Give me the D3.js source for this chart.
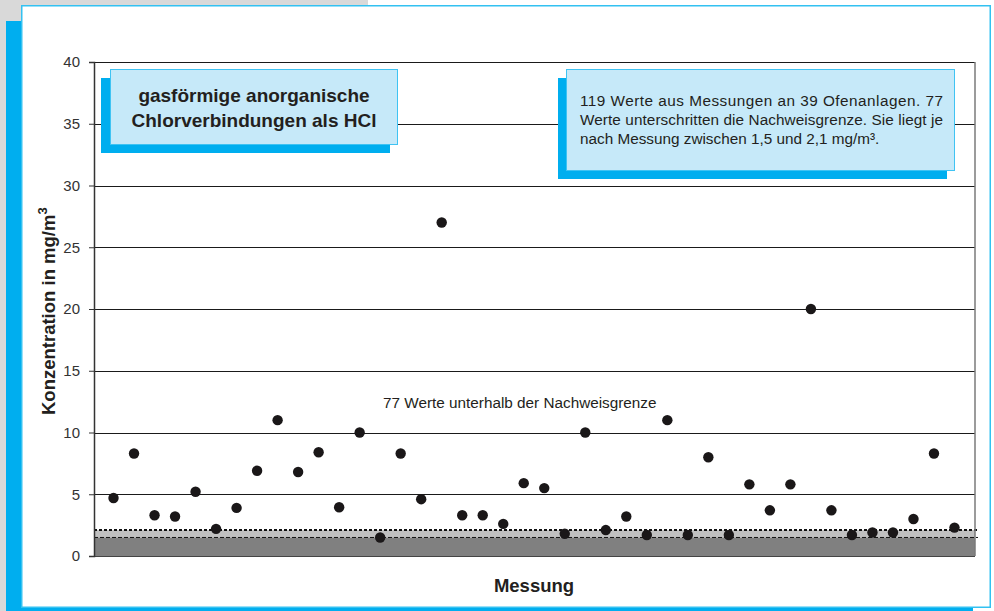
<!DOCTYPE html>
<html lang="de">
<head>
  <meta charset="UTF-8">
  <title>Chlorverbindungen als HCl</title>
  <style>
    body { margin: 0; background: #fff; }
    svg { display: block; font-family: "Liberation Sans", Arial, sans-serif; }
    .tick text { font-size: 15px; fill: #333; font-family: "Liberation Sans", Arial, sans-serif; }
  </style>
  <script src="https://cdn.jsdelivr.net/npm/d3@7"></script>
</head>
<body>
<div class="main"></div>
<script>

// Messung number and concentration (mg/m3)
var messung = d3.range(1, 43);
var werte = [4.7, 8.3, 3.3, 3.2, 5.2, 2.2, 3.9, 6.9, 11.0, 6.8, 8.4, 3.95, 10.0, 1.5,
             8.3, 4.6, 27.0, 3.3, 3.3, 2.6, 5.9, 5.5, 1.8, 10.0, 2.1, 3.2, 1.7, 11.0,
             1.7, 8.0, 1.7, 5.8, 3.7, 5.8, 20.0, 3.7, 1.7, 1.9, 1.9, 3.0, 8.3, 2.3];
var yTicks = [0, 5, 10, 15, 20, 25, 30, 35, 40];
var grenzeUnten = 1.5, grenzeOben = 2.1;

var titelZeilen = ["gasförmige anorganische", "Chlorverbindungen als HCl"];
var infoZeilen = ["119 Werte aus Messungen an 39 Ofenanlagen. 77",
                  "Werte unterschritten die Nachweisgrenze. Sie liegt je",
                  "nach Messung zwischen 1,5 und 2,1 mg/m³."];
var hinweis = "77 Werte unterhalb der Nachweisgrenze";

var width = 994, height = 611;
var plotLeft = 94, plotRight = 975, plotTop = 62, plotBottom = 556;

var svg = d3.select(".main").append("svg")
    .attr("width", width)
    .attr("height", height);

// page frame
svg.append("rect").attr("x", 0).attr("y", 0).attr("width", 368).attr("height", 5).attr("fill", "#d9d9d9");
svg.append("rect").attr("x", 0).attr("y", 0).attr("width", 21).attr("height", 21).attr("fill", "#d9d9d9");
svg.append("rect").attr("x", 0).attr("y", 0).attr("width", 6).attr("height", height).attr("fill", "#d9d9d9");
svg.append("rect").attr("x", 6).attr("y", 21).attr("width", 15).attr("height", 590).attr("fill", "#00aeef");
svg.append("rect").attr("x", 6).attr("y", 607).attr("width", 967).attr("height", 4).attr("fill", "#00aeef");
svg.append("rect")
    .attr("x", 21.75).attr("y", 5.75).attr("width", 968.5).attr("height", 601.5)
    .attr("fill", "#fff").attr("stroke", "#33c1f1").attr("stroke-width", 1.5);

var x = d3.scaleLinear().domain([0, 43]).range([93, 975]);
var y = d3.scaleLinear().domain([0, 40]).range([plotBottom, plotTop]);

// area below detection limit
svg.append("rect")
    .attr("x", plotLeft).attr("width", plotRight - plotLeft)
    .attr("y", y(grenzeOben)).attr("height", y(grenzeUnten) - y(grenzeOben))
    .attr("fill", "#c0c0c0");
svg.append("rect")
    .attr("x", plotLeft).attr("width", plotRight - plotLeft)
    .attr("y", y(grenzeUnten)).attr("height", y(0) - y(grenzeUnten))
    .attr("fill", "#808080");

// grid lines
svg.append("g").selectAll("line")
    .data(yTicks.filter(function(d) { return d > 0; }))
  .enter().append("line")
    .attr("x1", plotLeft).attr("x2", plotRight)
    .attr("y1", function(d) { return Math.round(y(d)) + 0.5; })
    .attr("y2", function(d) { return Math.round(y(d)) + 0.5; })
    .attr("stroke", "#1a1a1a").attr("stroke-width", 1);

svg.append("line")
    .attr("x1", plotLeft).attr("x2", plotRight + 3)
    .attr("y1", y(grenzeOben)).attr("y2", y(grenzeOben))
    .attr("stroke", "#111").attr("stroke-width", 2).attr("stroke-dasharray", "3,2");
svg.append("line")
    .attr("x1", plotLeft).attr("x2", plotRight + 3)
    .attr("y1", y(grenzeUnten)).attr("y2", y(grenzeUnten))
    .attr("stroke", "#111").attr("stroke-width", 1).attr("stroke-dasharray", "4,2");

// plot border right / bottom
svg.append("line")
    .attr("x1", plotRight).attr("x2", plotRight).attr("y1", plotTop).attr("y2", plotBottom)
    .attr("stroke", "#7a7a7a").attr("stroke-width", 1.5);
svg.append("line")
    .attr("x1", plotLeft).attr("x2", plotRight).attr("y1", plotBottom + 0.5).attr("y2", plotBottom + 0.5)
    .attr("stroke", "#444").attr("stroke-width", 1);

// y axis
var yAxis = svg.append("g")
    .attr("transform", "translate(" + plotLeft + ",0)")
    .call(d3.axisLeft(y).tickValues(yTicks).tickSize(5).tickPadding(9));
yAxis.select(".domain").attr("stroke", "#333").attr("stroke-width", 1.5);
yAxis.selectAll(".tick line").attr("stroke", "#333");

// points
svg.append("g").selectAll("circle")
    .data(werte)
  .enter().append("circle")
    .attr("cx", function(d, i) { return x(messung[i]); })
    .attr("cy", function(d) { return y(d); })
    .attr("r", 5.2)
    .attr("fill", "#1a1718");

// title box
svg.append("rect").attr("x", 101).attr("y", 78).attr("width", 289).attr("height", 75).attr("fill", "#00aeef");
svg.append("rect").attr("x", 110.5).attr("y", 69.5).attr("width", 287).attr("height", 75)
    .attr("fill", "#c6e9f9").attr("stroke", "#3fc3f3").attr("stroke-width", 1);
svg.append("g").selectAll("text")
    .data(titelZeilen)
  .enter().append("text")
    .attr("x", 254)
    .attr("y", function(d, i) { return 102 + i * 24.5; })
    .attr("text-anchor", "middle")
    .attr("font-weight", "bold")
    .attr("font-size", 19)
    .attr("fill", "#231f20")
    .text(function(d) { return d; });

// info box
svg.append("rect").attr("x", 558).attr("y", 78).attr("width", 389).attr("height", 101).attr("fill", "#00aeef");
svg.append("rect").attr("x", 566.5).attr("y", 69.5).attr("width", 388).attr("height", 101)
    .attr("fill", "#c6e9f9").attr("stroke", "#3fc3f3").attr("stroke-width", 1);
svg.append("g").selectAll("text")
    .data(infoZeilen)
  .enter().append("text")
    .attr("x", 580)
    .attr("y", function(d, i) { return 106 + i * 18.8; })
    .attr("font-size", 15.3)
    .attr("fill", "#231f20")
    .each(function(d, i) {
      if (i < infoZeilen.length - 1) {
        d3.select(this).attr("textLength", 363).attr("lengthAdjust", "spacing");
      }
    })
    .text(function(d) { return d; });

// note above the limit band
svg.append("text")
    .attr("x", 383).attr("y", 408)
    .attr("font-size", 15.3)
    .attr("fill", "#231f20")
    .text(hinweis);

// axis titles
svg.append("text")
    .attr("x", 534).attr("y", 592)
    .attr("text-anchor", "middle")
    .attr("font-weight", "bold")
    .attr("font-size", 18.5)
    .attr("fill", "#231f20")
    .text("Messung");

var yTitel = svg.append("text")
    .attr("transform", "translate(55,415) rotate(-90)")
    .attr("font-weight", "bold")
    .attr("font-size", 18.5)
    .attr("fill", "#231f20");
yTitel.append("tspan").text("Konzentration in mg/m");
yTitel.append("tspan").attr("dy", -8).attr("font-size", 13).text("3");

</script>
</body>
</html>
